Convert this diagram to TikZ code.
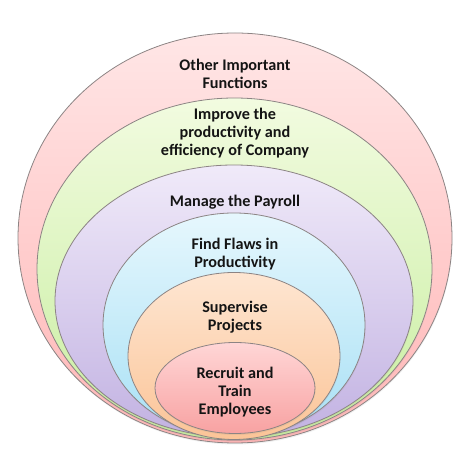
\documentclass[tikz,border=0pt]{standalone}
\usepackage{fontspec}
\setmainfont{Carlito}
\usetikzlibrary{shapes.geometric,shadows}
\definecolor{RingEdge}{HTML}{8C8484}
\definecolor{RedTop}{HTML}{FFE6E6}
\definecolor{RedBot}{HTML}{FFB6B6}
\definecolor{GreenTop}{HTML}{F2FBE0}
\definecolor{GreenBot}{HTML}{C8EEA0}
\definecolor{VioletTop}{HTML}{F0EAF9}
\definecolor{VioletBot}{HTML}{C2B2E2}
\definecolor{CyanTop}{HTML}{E6F7FD}
\definecolor{CyanBot}{HTML}{A8E0F5}
\definecolor{PeachTop}{HTML}{FEE6D2}
\definecolor{PeachBot}{HTML}{FBC497}
\definecolor{RoseTop}{HTML}{FFD6D6}
\definecolor{RoseBot}{HTML}{F8A2A2}
\definecolor{LabelInk}{HTML}{141414}

\begin{document}
\begin{tikzpicture}[x=1pt,y=1pt]
  \tikzstyle{ring}=[ellipse,draw=RingEdge,line width=0.8pt,inner sep=0pt,
    outer sep=0pt,drop shadow={opacity=0.12,shadow xshift=0.5pt,shadow yshift=-1.5pt}]
  \tikzstyle{ringlabel}=[align=center,text=LabelInk,
    font=\fontsize{16.2}{18}\selectfont\bfseries]
  \useasboundingbox (0,0) rectangle (474,465);
  % nested rings, outermost first
  \node[ring,top color=RedTop,bottom color=RedBot,
    minimum width=434,minimum height=410] (other) at (235,227) {};
  \node[ring,top color=GreenTop,bottom color=GreenBot,
    minimum width=395,minimum height=342] (improve) at (234.5,196) {};
  \node[ring,top color=VioletTop,bottom color=VioletBot,
    minimum width=358,minimum height=272] (payroll) at (234,164) {};
  \node[ring,top color=CyanTop,bottom color=CyanBot,
    minimum width=262,minimum height=224] (flaws) at (234,140) {};
  \node[ring,top color=PeachTop,bottom color=PeachBot,
    minimum width=212,minimum height=167] (projects) at (234,109) {};
  \node[ring,top color=RoseTop,bottom color=RoseBot,
    minimum width=160,minimum height=91] (recruit) at (235,77) {};
  % labels
  \node[ringlabel] (otherText) at (235,391) {Other Important\\Functions};
  \node[ringlabel] (improveText) at (235,332) {Improve the\\productivity and\\efficiency of Company};
  \node[ringlabel] (payrollText) at (235,263) {Manage the Payroll};
  \node[ringlabel] (flawsText) at (235,211) {Find Flaws in\\Productivity};
  \node[ringlabel] (projectsText) at (235,148) {Supervise\\Projects};
  \node[ringlabel] (recruitText) at (235,73) {Recruit and\\Train\\Employees};
\end{tikzpicture}
\end{document}
